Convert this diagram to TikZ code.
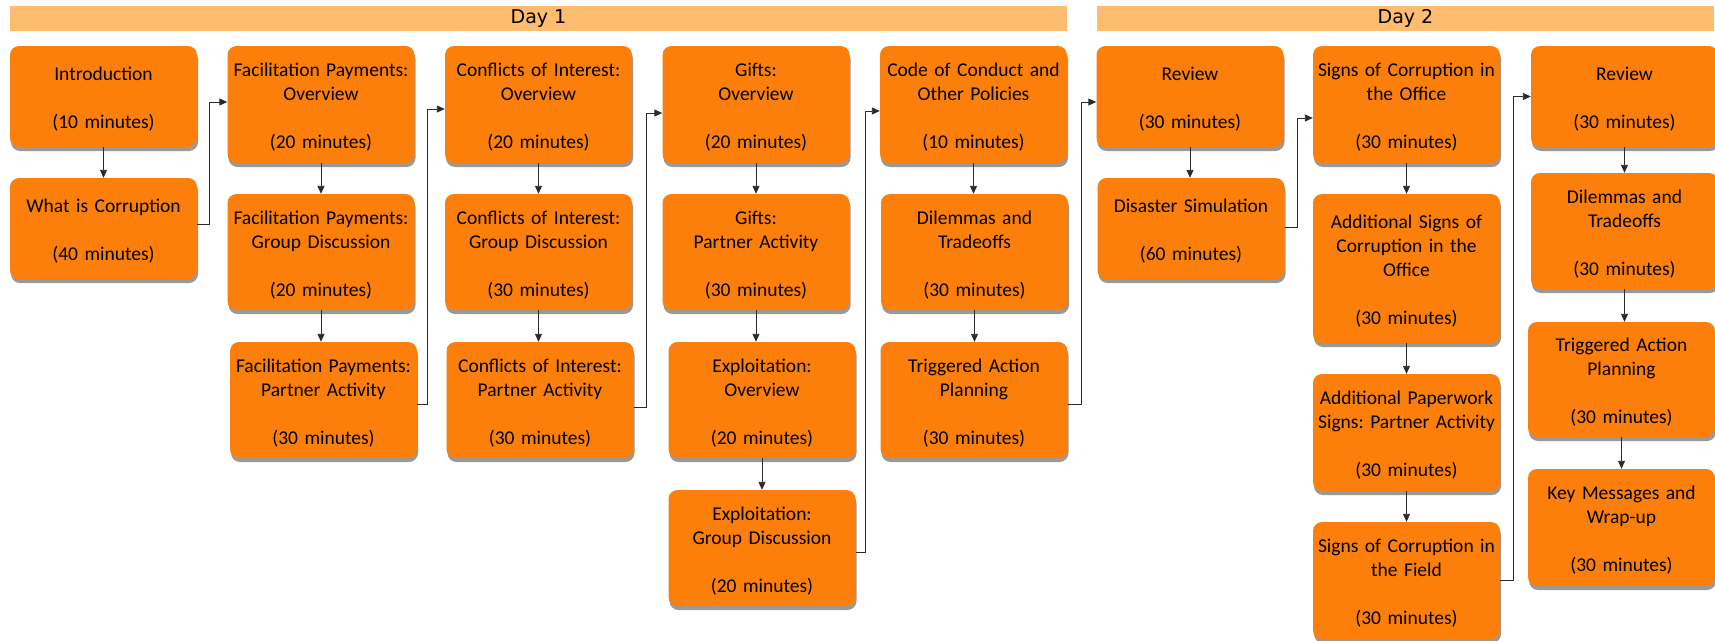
\documentclass[tikz,border=0pt]{standalone}
\usepackage{fontspec}
\setmainfont{Carlito}
\newfontfamily\dayfont{DejaVu Sans}
\usetikzlibrary{shadows,arrows.meta,calc}
\definecolor{boxorange}{HTML}{FB7F0A}
\definecolor{barorange}{HTML}{FDBC6E}
\definecolor{linegray}{HTML}{2B2B2B}
\frenchspacing
\tikzset{
  sbox/.style={rounded corners=9pt, fill=boxorange, align=center, text width=186pt,
    minimum width=187pt, inner sep=0pt, font=\fontsize{19.5}{24}\selectfont,
    execute at begin node={\rule{0pt}{19pt}},
    drop shadow={shadow xshift=1pt, shadow yshift=-4pt, opacity=0.4, fill=black}},
  conn/.style={draw=linegray, line width=0.9pt, -{Triangle[length=8pt,width=7pt]}},
  dayhdr/.style={fill=barorange, inner sep=0pt, minimum height=25pt,
    font=\dayfont\fontsize{19}{22}\selectfont}
}
\begin{document}
\begin{tikzpicture}[x=1pt,y=-1pt]
\useasboundingbox (0,0) rectangle (1715,640);
\fill[white] (0,0) rectangle (1715,640);
% headers
\node[dayhdr, minimum width=1057pt] (day1) at (538.5,18.5) {Day 1};
\node[dayhdr, minimum width=617pt] (day2) at (1405.5,18.5) {Day 2};
% column 1
\node[sbox, minimum height=101pt] (intro) at (103.5,96.5) {Introduction\\[24pt](10 minutes)};
\node[sbox, minimum height=101pt] (what) at (103.5,228.5) {What is Corruption\\[24pt](40 minutes)};
% column 2
\node[sbox, minimum height=117pt] (fpo) at (321,104.5) {Facilitation Payments:\\Overview\\[24pt](20 minutes)};
\node[sbox, minimum height=116pt] (fpg) at (321,252) {Facilitation Payments:\\Group Discussion\\[24pt](20 minutes)};
\node[sbox, minimum height=116pt] (fpp) at (323.5,400) {Facilitation Payments:\\Partner Activity\\[24pt](30 minutes)};
% column 3
\node[sbox, minimum height=117pt] (coio) at (538.5,104.5) {Conflicts of Interest:\\Overview\\[24pt](20 minutes)};
\node[sbox, minimum height=116pt] (coig) at (538.5,252) {Conflicts of Interest:\\Group Discussion\\[24pt](30 minutes)};
\node[sbox, minimum height=116pt] (coip) at (540,400) {Conflicts of Interest:\\Partner Activity\\[24pt](30 minutes)};
% column 4
\node[sbox, minimum height=117pt] (gifto) at (756,104.5) {Gifts:\\Overview\\[24pt](20 minutes)};
\node[sbox, minimum height=116pt] (giftp) at (756,252) {Gifts:\\Partner Activity\\[24pt](30 minutes)};
\node[sbox, minimum height=116pt] (explo) at (762,400) {Exploitation:\\Overview\\[24pt](20 minutes)};
\node[sbox, minimum height=116pt] (explg) at (762,548) {Exploitation:\\Group Discussion\\[24pt](20 minutes)};
% column 5
\node[sbox, minimum height=117pt] (code) at (973.5,104.5) {Code of Conduct and\\Other Policies\\[24pt](10 minutes)};
\node[sbox, minimum height=116pt] (dil) at (974.5,252) {Dilemmas and\\Tradeoffs\\[24pt](30 minutes)};
\node[sbox, minimum height=116pt] (trig) at (974,400) {Triggered Action\\Planning\\[24pt](30 minutes)};
% column 6
\node[sbox, minimum height=101pt] (rev) at (1190,96.5) {Review\\[24pt](30 minutes)};
\node[sbox, minimum height=101pt] (dis) at (1191,228.5) {Disaster Simulation\\[24pt](60 minutes)};
% column 7
\node[sbox, minimum height=117pt] (sigo) at (1406.5,104.5) {Signs of Corruption in\\the Office\\[24pt](30 minutes)};
\node[sbox, minimum height=149pt] (adds) at (1406.5,268.5) {Additional Signs of\\Corruption in the\\Office\\[24pt](30 minutes)};
\node[sbox, minimum height=117pt] (addp) at (1406.5,432.5) {Additional Paperwork\\Signs: Partner Activity\\[24pt](30 minutes)};
\node[sbox, minimum height=117pt] (sigf) at (1406.5,580.5) {Signs of Corruption in\\the Field\\[24pt](30 minutes)};
% column 8
\node[sbox, minimum height=101pt] (rev2) at (1624.5,96.5) {Review\\[24pt](30 minutes)};
\node[sbox, minimum height=116pt] (dil2) at (1624.5,231) {Dilemmas and\\Tradeoffs\\[24pt](30 minutes)};
\node[sbox, minimum height=115pt] (trig2) at (1621.5,379.5) {Triggered Action\\Planning\\[24pt](30 minutes)};
\node[sbox, minimum height=117pt] (key) at (1621.5,527.5) {Key Messages and\\Wrap-up\\[24pt](30 minutes)};
% vertical connectors
\foreach \a/\b in {intro/what, fpo/fpg, fpg/fpp, coio/coig, coig/coip, gifto/giftp,
  giftp/explo, explo/explg, code/dil, dil/trig, rev/dis, sigo/adds, adds/addp,
  addp/sigf, rev2/dil2, dil2/trig2, trig2/key}
  \draw[conn] (\a.south) -- (\a.south |- \b.north);
% elbow connectors
\draw[conn] ([yshift=4.5pt]what.east) -- ++(12,0) |- ([yshift=2.5pt]fpo.west);
\draw[conn] ([yshift=-4pt]fpp.east) -- ++(10,0) |- ([yshift=-4.5pt]coio.west);
\draw[conn] ([yshift=-7pt]coip.east) -- ++(13,0) |- ([yshift=-8.5pt]gifto.west);
\draw[conn] ([yshift=-4pt]explg.east) -- ++(10,0) |- ([yshift=-6.5pt]code.west);
\draw[conn] ([yshift=-4pt]trig.east) -- ++(14,0) |- ([yshift=-5.5pt]rev.west);
\draw[conn] ([yshift=1.5pt]dis.east) -- ++(13,0) |- ([yshift=-13.5pt]sigo.west);
\draw[conn] (sigf.east) -- ++(13,0) |- (rev2.west);
\end{tikzpicture}
\end{document}
